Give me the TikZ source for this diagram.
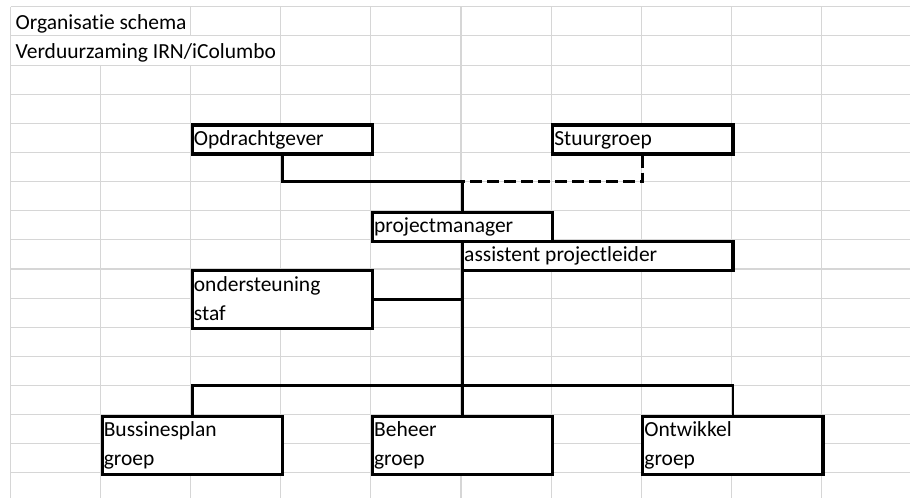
\documentclass[tikz,border=0pt]{standalone}
\usepackage{fontspec}
\setmainfont[Ligatures=NoCommon]{Carlito}
\newcommand\gcx[1]{(10.5+90.1*(#1))}
\newcommand\gry[1]{(6.8+29.13*(#1))}
\begin{document}
\begin{tikzpicture}[x=1pt,y=-1pt,
  gridline/.style={draw=black!16, line width=1.1pt},
  box/.style={draw=black, line width=3.2pt, fill=white, rectangle, inner sep=0pt, anchor=north west},
  lbl/.style={anchor=base west, inner sep=0pt, font=\fontsize{21.5}{25}\selectfont},
  conn/.style={draw=black, line width=2.8pt},
  dconn/.style={conn, dash pattern=on 12pt off 5pt}]
\useasboundingbox (0,0) rectangle (910,498);
\fill[white] (0,0) rectangle (910,498);
% spreadsheet grid
\foreach \i in {0,3,4,5,6,7,8,9,10}
  \draw[gridline] ({\gcx{\i}},{\gry{0}}) -- ({\gcx{\i}},498);
\draw[gridline] ({\gcx{1}},{\gry{2}}) -- ({\gcx{1}},498);
\draw[gridline] ({\gcx{2}},{\gry{0}}) -- ({\gcx{2}},{\gry{1}});
\draw[gridline] ({\gcx{2}},{\gry{2}}) -- ({\gcx{2}},498);
\foreach \j in {0,...,16}
  \draw[gridline] ({\gcx{0}},{\gry{\j}}) -- (910,{\gry{\j}});
% title texts
\node[lbl] (title1) at ({\gcx{0}+5},{\gry{1}-6}) {Organisatie schema};
\node[lbl] (title2) at ({\gcx{0}+5},{\gry{2}-7}) {Verduurzaming IRN/iColumbo};
% helper rows
\coordinate (r6) at (0,{\gry{6}});
\coordinate (r13) at (0,{\gry{13}});
% boxes
\node[box, minimum width={90.1*2}, minimum height=29.13] (opd) at ({\gcx{2}},{\gry{4}}) {};
\node[box, minimum width={90.1*2}, minimum height=29.13] (stg) at ({\gcx{6}},{\gry{4}}) {};
\node[box, minimum width={90.1*2}, minimum height=29.13] (pm) at ({\gcx{4}},{\gry{7}}) {};
\node[box, minimum width={90.1*3}, minimum height=29.13] (ast) at ({\gcx{5}},{\gry{8}}) {};
\node[box, minimum width={90.1*2}, minimum height=58.26] (ond) at ({\gcx{2}},{\gry{9}}) {};
\node[box, minimum width={90.1*2}, minimum height=58.26] (bus) at ({\gcx{1}},{\gry{14}}) {};
\node[box, minimum width={90.1*2}, minimum height=58.26] (beh) at ({\gcx{4}},{\gry{14}}) {};
\node[box, minimum width={90.1*2}, minimum height=58.26] (ont) at ({\gcx{7}},{\gry{14}}) {};
% connectors
\draw[conn] (opd.south) |- (r6 -| pm.north) -- (pm.north);
\draw[dconn] (stg.south) |- (r6 -| pm.north);
\draw[conn] (pm.south) -- (beh.north);
\draw[conn] (ond.east) -- (ond.east -| pm.south);
\draw[conn] (bus.north) |- (r13 -| ont.north) -- (ont.north);
% box texts
\node[lbl] (opdT) at ({\gcx{2}+3},{\gry{5}-7}) {Opdrachtgever};
\node[lbl] (stgT) at ({\gcx{6}+3},{\gry{5}-7}) {Stuurgroep};
\node[lbl] (pmT) at ({\gcx{4}+3},{\gry{8}-7}) {projectmanager};
\node[lbl] (astT) at ({\gcx{5}+3},{\gry{9}-7}) {assistent projectleider};
\node[lbl] (ondT1) at ({\gcx{2}+3},{\gry{10}-7}) {ondersteuning};
\node[lbl] (ondT2) at ({\gcx{2}+3},{\gry{11}-7}) {staf};
\node[lbl] (busT1) at ({\gcx{1}+3},{\gry{15}-7}) {Bussinesplan};
\node[lbl] (busT2) at ({\gcx{1}+3},{\gry{16}-7}) {groep};
\node[lbl] (behT1) at ({\gcx{4}+3},{\gry{15}-7}) {Beheer};
\node[lbl] (behT2) at ({\gcx{4}+3},{\gry{16}-7}) {groep};
\node[lbl] (ontT1) at ({\gcx{7}+3},{\gry{15}-7}) {Ontwikkel};
\node[lbl] (ontT2) at ({\gcx{7}+3},{\gry{16}-7}) {groep};
\end{tikzpicture}
\end{document}
